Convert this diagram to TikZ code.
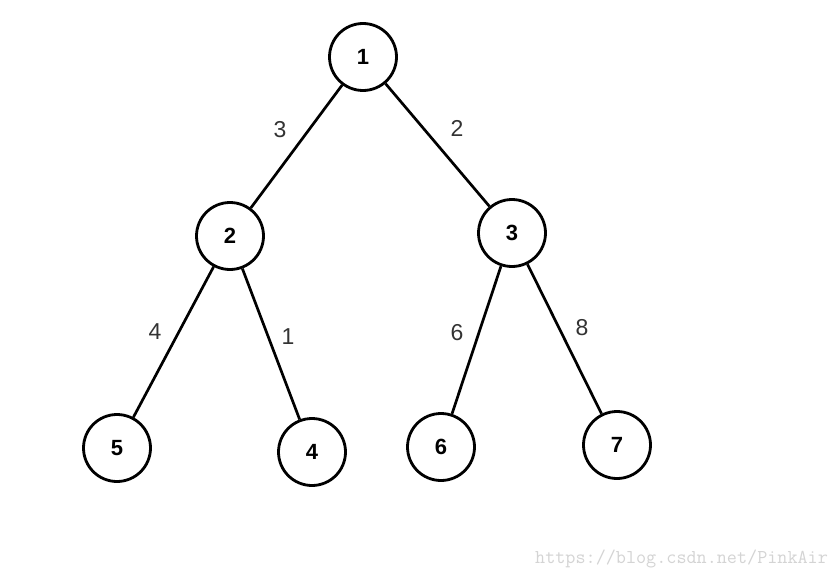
\documentclass[tikz,border=0pt]{standalone}
\usepackage{fontspec}
\setmainfont{Liberation Sans}
\usetikzlibrary{positioning}

\tikzset{
    vertex/.style={draw,circle,line width=2.8pt,minimum size=67pt,inner sep=0pt,font=\fontsize{22}{22}\selectfont\bfseries},
    weight/.style={font=\fontsize{23}{23}\selectfont,text=black!80,inner sep=0pt},
    edge/.style={line width=2.7pt}
}

\begin{document}
\begin{tikzpicture}[x=1pt,y=-1pt]
    \useasboundingbox[fill=white] (0,0) rectangle (836,578);

    % Vertices
    \node[vertex] (v1) at (363,57) {1};
    \node[vertex] (v2) at (230,236) {2};
    \node[vertex] (v3) at (512,233) {3};
    \node[vertex] (v5) at (117,448) {5};
    \node[vertex] (v4) at (312,452) {4};
    \node[vertex] (v6) at (441,447) {6};
    \node[vertex] (v7) at (617,445) {7};

    % Edges
    \draw[edge] (v1) -- (v2);
    \draw[edge] (v1) -- (v3);
    \draw[edge] (v2) -- (v5);
    \draw[edge] (v2) -- (v4);
    \draw[edge] (v3) -- (v6);
    \draw[edge] (v3) -- (v7);

    % Weights
    \node[weight] (w12) at (280,130) {3};
    \node[weight] (w13) at (457,128) {2};
    \node[weight] (w25) at (155,332) {4};
    \node[weight] (w24) at (288,337) {1};
    \node[weight] (w36) at (457,333) {6};
    \node[weight] (w37) at (582,328) {8};

    \node[anchor=base west,inner sep=0pt,text=black!17,font=\ttfamily\fontsize{19.6}{19.6}\selectfont] (mark) at (535,563) {https://blog.csdn.net/PinkAir};
\end{tikzpicture}
\end{document}
